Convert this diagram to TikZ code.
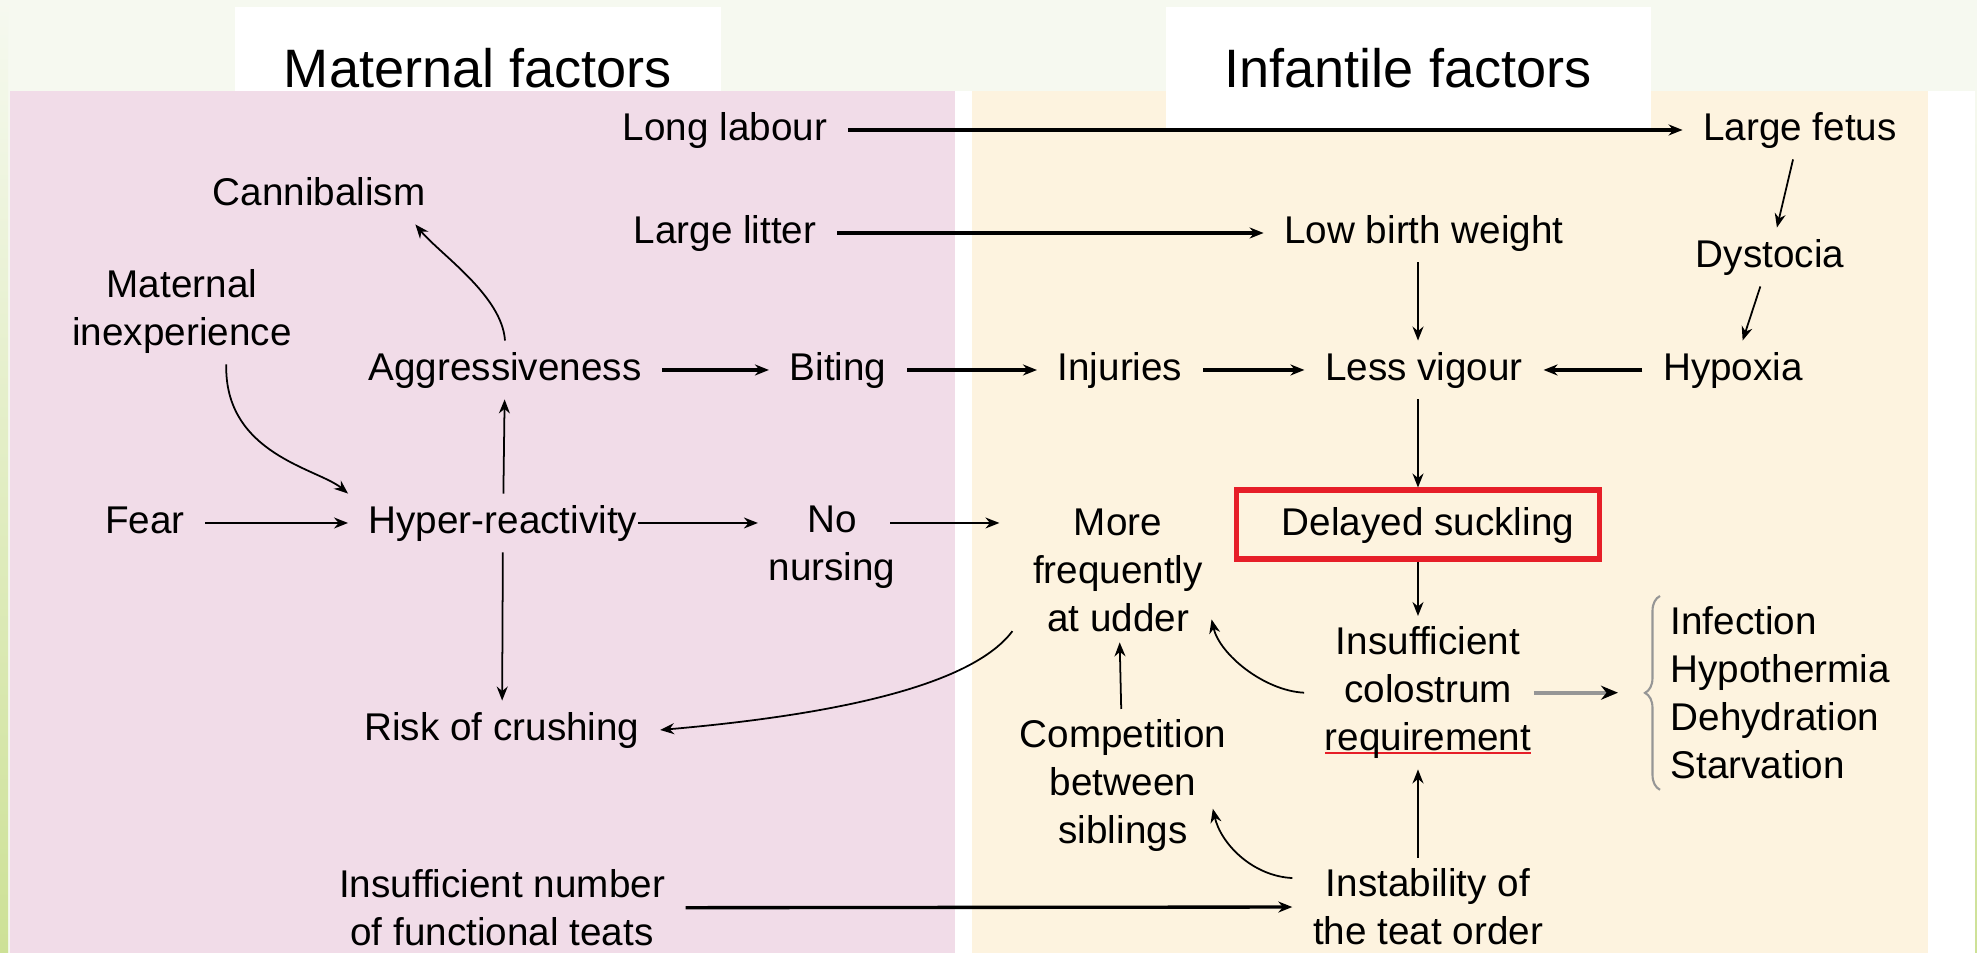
\documentclass[tikz,border=0pt]{standalone}
\usepackage{fontspec}
\setmainfont{Liberation Sans}
\usepackage{tikz}
\usetikzlibrary{positioning,arrows.meta,calc,decorations.pathreplacing}
\definecolor{bgpage}{RGB}{246,249,240}
\definecolor{leafgreen}{RGB}{205,225,150}
\definecolor{matpink}{RGB}{241,220,232}
\definecolor{infcream}{RGB}{253,243,223}
\definecolor{boxred}{RGB}{230,30,40}
\definecolor{linegray}{RGB}{150,150,150}
\newcommand{\labfont}{\fontsize{11}{13.66}\selectfont}
\newcommand{\ttlfont}{\fontsize{15.4}{18}\selectfont}
\newlength{\ulwd}
\newcommand{\redul}[1]{\settowidth{\ulwd}{#1}\rlap{\textcolor{boxred}{\rule[-0.09em]{\ulwd}{0.55pt}}}#1}
\tikzset{
  lab/.style={font=\labfont,inner xsep=2mm,inner ysep=1mm,text height=2.9mm,text depth=0.85mm},
  mlab/.style={font=\labfont,align=center,inner xsep=2mm,inner ysep=1mm},
  ttl/.style={font=\ttlfont,inner sep=0pt},
  redbox/.style={draw=boxred,line width=1.7pt,minimum width=3.63cm,minimum height=6.9mm},
  arr/.style={-{Stealth[length=1.4mm,width=1.1mm]},line width=0.5pt},
  tarr/.style={arr,line width=0.95pt},
  garr/.style={-{Stealth[length=1.7mm,width=1.4mm,black]},draw=linegray,line width=1.2pt},
  brc/.style={decorate,decoration={brace,amplitude=1.5mm},draw=linegray,line width=0.6pt}
}

\begin{document}
\begin{tikzpicture}[x=0.1mm,y=-0.1mm]
  \useasboundingbox (0,0) rectangle (1977,953);
  \fill[bgpage] (0,0) rectangle (1977,953);
  \shade[top color=bgpage,bottom color=leafgreen] (0,0) rectangle (8,953);
  \fill[white] (955,91) rectangle (1975,953);
  \shade[top color=bgpage,bottom color=leafgreen] (1975,91) rectangle (1977,953);
  \fill[matpink] (10,91) rectangle (955,953);
  \fill[infcream] (972,91) rectangle (1928,953);
  \fill[white] (235,7) rectangle (721,91);
  \fill[white] (1166,7) rectangle (1651,128);

  \node[ttl,anchor=base] (mattl) at (478,88) {Maternal factors};
  \node[ttl,anchor=base] (inftl) at (1408,88) {Infantile factors};

  \node[lab] (longl) at (725,130) {Long labour};
  \node[lab] (lfetus) at (1800,130) {Large fetus};
  \node[lab] (cannib) at (319,195) {Cannibalism};
  \node[lab] (llitter) at (725,233) {Large litter};
  \node[lab] (lowbw) at (1424,233) {Low birth weight};
  \node[lab] (dyst) at (1770,257) {Dystocia};
  \node[mlab,anchor=north] (matinexp) at (182,259) {Maternal\\inexperience};
  \node[lab] (aggr) at (505,370) {Aggressiveness};
  \node[lab] (biting) at (838,370) {Biting};
  \node[lab] (injur) at (1120,370) {Injuries};
  \node[lab] (lessv) at (1424,370) {Less vigour};
  \node[lab] (hypox) at (1733,370) {Hypoxia};
  \node[lab] (fear) at (145,523) {Fear};
  \node[lab] (hyper) at (503,523) {Hyper-reactivity};
  \node[mlab,anchor=north,inner xsep=0pt] (nonurs) at (832,495) {No\\nursing};
  \node[mlab,anchor=north] (more) at (1118,498) {More\\frequently\\at udder};
  \node[lab,redbox] (delay) at (1418,525) {\hspace*{2mm}Delayed suckling};
  \node[mlab,anchor=north] (colos) at (1428,616) {Insufficient\\colostrum\\\redul{requirement}};
  \node[mlab,anchor=north west,align=left,inner xsep=1mm] (outc) at (1660,596) {Infection\\Hypothermia\\Dehydration\\Starvation};
  \node[lab] (risk) at (502,730) {Risk of crushing};
  \node[mlab,anchor=north] (compet) at (1123,709) {Competition\\between\\siblings};
  \node[mlab,anchor=north] (insnum) at (502,859) {Insufficient number\\of functional teats};
  \node[mlab,anchor=north] (instab) at (1428,858) {Instability of\\the teat order};

  \draw[tarr] (longl) -- (lfetus);
  \draw[tarr] (llitter) -- (lowbw);
  \foreach \a/\b in {aggr/biting,biting/injur,injur/lessv,hypox/lessv}
    \draw[tarr] (\a) -- (\b);
  \draw[tarr] (insnum) -- (instab);
  \draw[arr] (lfetus) -- (dyst);
  \draw[arr] (dyst) -- (hypox);
  \draw[arr] (lowbw.south -| delay) -- (lessv.north -| delay);
  \draw[arr] (lessv.south -| delay) -- (delay.north);
  \draw[arr] (delay.south) -- (colos.north -| delay);
  \draw[arr] (instab.north -| delay) -- (colos.south -| delay);
  \draw[arr] (compet) -- (more);
  \draw[arr] (hyper) -- (aggr);
  \draw[arr] (hyper) -- (risk);
  \draw[arr] (fear) -- (hyper);
  \draw[arr,shorten <=-2mm,shorten >=1mm] (hyper.east) -- (hyper -| nonurs.west);
  \draw[arr,shorten <=-0.6mm,shorten >=1.3mm] (nonurs.east |- hyper) -- (more.west |- hyper);
  \draw[arr] (aggr.north) .. controls +(-3,-45) and +(25,30) .. (cannib.-17);
  \draw[arr] (matinexp.-50) .. controls +(-2,90) and +(-30,-25) .. (hyper.north west);
  \draw[arr] (more.210) .. controls +(-45,60) and +(149,-13) .. (risk.east);
  \draw[arr] (colos.west) .. controls +(-40,-2) and +(8,35) .. ($(more.-25)+(-12,0)$);
  \draw[arr] (instab.168) .. controls +(-40,-2) and +(8,35) .. ($(compet.east)+(-34,23)$);
  \draw[garr,shorten <=-1.8mm,shorten >=4.2mm] (colos) -- (colos -| outc.west);
  \draw[brc] (outc.south west) -- (outc.north west);
\end{tikzpicture}
\end{document}
